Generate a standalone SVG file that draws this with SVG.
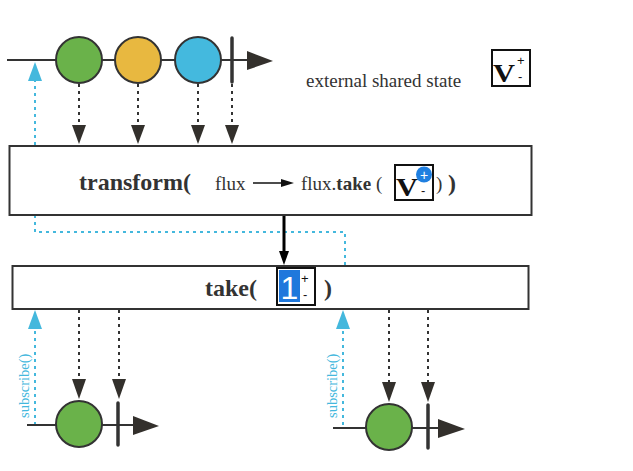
<svg xmlns="http://www.w3.org/2000/svg" width="633" height="471" viewBox="0 0 633 471">
<defs>
<style>
.line{stroke:#333;stroke-width:2;fill:none}
.bar{stroke:#333;stroke-width:3.5;stroke-linecap:round}
.dash{stroke:#333;stroke-width:2;stroke-dasharray:3 4;fill:none}
.cyan{stroke:#44b8dd;stroke-width:2;stroke-dasharray:3 4;fill:none}
.head{fill:#33302c}
.chead{fill:#44b8dd}
.node{stroke:#333;stroke-width:2}
.box{fill:#fff;stroke:#333;stroke-width:2}
.serif{font-family:"Liberation Serif","DejaVu Serif",serif;fill:#333}
.bold{font-weight:bold}
.sub{font-family:"Liberation Serif",serif;font-size:14.5px;fill:#44b8dd}
.sign{font-family:"Liberation Sans",sans-serif;font-size:13px;fill:#111}
.vee{font-family:"Liberation Serif",serif;font-size:25px;font-weight:bold;fill:#111}
</style>
</defs>
<rect width="633" height="471" fill="#fff"/>

<g id="connectors">
  <line class="line" x1="7" y1="60" x2="250" y2="60"/>
  <polygon class="head" points="247,51 273,61 247,70"/>
  <line class="dash" x1="79" y1="84" x2="79" y2="126"/>
  <polygon class="head" points="72,125 86,125 79,144"/>
  <line class="dash" x1="138" y1="84" x2="138" y2="126"/>
  <polygon class="head" points="131,125 145,125 138,144"/>
  <line class="dash" x1="198" y1="84" x2="198" y2="126"/>
  <polygon class="head" points="191,125 205,125 198,144"/>
  <line class="dash" x1="232" y1="84" x2="232" y2="126"/>
  <polygon class="head" points="225,125 239,125 232,144"/>
  <line class="cyan" x1="35" y1="145" x2="35" y2="80"/>
  <polygon class="chead" points="28,81 42,81 35,62"/>
  <polyline class="cyan" points="35,215 35,232 345,232 345,266"/>
  <line x1="284" y1="215" x2="284" y2="254" stroke="#000" stroke-width="3"/>
  <polygon points="279,251 289,251 284,265" fill="#000"/>
  <line class="cyan" x1="35" y1="425" x2="35" y2="328"/>
  <polygon class="chead" points="28,329 42,329 35,310"/>
  <line class="dash" x1="79" y1="310" x2="79" y2="380"/>
  <polygon class="head" points="72,379 86,379 79,399"/>
  <line class="dash" x1="119" y1="310" x2="119" y2="380"/>
  <polygon class="head" points="112,379 126,379 119,399"/>
  <line class="line" x1="27" y1="425" x2="135" y2="425"/>
  <polygon class="head" points="133,416 159,426 133,435"/>
  <line class="cyan" x1="343" y1="425" x2="343" y2="328"/>
  <polygon class="chead" points="336,329 350,329 343,310"/>
  <line class="dash" x1="389" y1="310" x2="389" y2="383"/>
  <polygon class="head" points="382,382 396,382 389,402"/>
  <line class="dash" x1="428" y1="310" x2="428" y2="383"/>
  <polygon class="head" points="421,382 435,382 428,402"/>
  <line class="line" x1="333" y1="428" x2="441" y2="428"/>
  <polygon class="head" points="438,419 465,429 438,438"/>
</g>

<g id="top-green"><circle class="node" cx="79" cy="60" r="23" fill="#6ab24a"/></g>
<g id="top-yellow"><circle class="node" cx="138" cy="60" r="23" fill="#e8b840"/></g>
<g id="top-blue"><circle class="node" cx="198" cy="60" r="23" fill="#44b9de"/></g>
<g id="top-complete"><line class="bar" x1="232" y1="38" x2="232" y2="82"/></g>

<g id="external-state">
  <text class="serif" x="306" y="87" font-size="19">external shared state</text>
  <rect x="492" y="50" width="38" height="36" fill="#fff" stroke="#111" stroke-width="2"/>
  <text class="vee" x="493" y="82" textLength="22" lengthAdjust="spacingAndGlyphs">V</text>
  <text class="sign" x="517" y="65">+</text>
  <text class="sign" x="518" y="81">-</text>
</g>

<g id="transform">
  <rect class="box" x="9.5" y="146" width="522" height="69"/>
  <text class="serif bold" x="79" y="190" font-size="24">transform(</text>
  <text class="serif" x="215" y="190" font-size="19">flux</text>
  <line x1="253" y1="183" x2="284" y2="183" stroke="#111" stroke-width="1.5"/>
  <polygon points="281,179 294,183 281,187" fill="#111"/>
  <text class="serif" x="301" y="190" font-size="19">flux.<tspan font-weight="bold">take</tspan> (</text>
  <rect x="395" y="165" width="38" height="35" fill="#fff" stroke="#111" stroke-width="2"/>
  <text class="vee" x="396" y="196" textLength="22" lengthAdjust="spacingAndGlyphs">V</text>
  <circle cx="424" cy="174.5" r="8" fill="#1f7fe0"/>
  <text x="424" y="179.5" text-anchor="middle" font-family="Liberation Sans,sans-serif" font-size="14" fill="#fff">+</text>
  <text class="sign" x="421" y="195">-</text>
  <text class="serif" x="436" y="190" font-size="19">)</text>
  <text class="serif bold" x="448" y="191" font-size="24">)</text>
</g>

<g id="take">
  <rect class="box" x="12.5" y="266" width="516" height="43"/>
  <text class="serif bold" x="205" y="296" font-size="24">take(</text>
  <rect x="277" y="268" width="38" height="37" fill="#fff" stroke="#111" stroke-width="2"/>
  <rect x="279" y="270" width="21" height="32" fill="#1f78dc"/>
  <text x="289.5" y="299" text-anchor="middle" font-family="Liberation Sans,sans-serif" font-size="32" fill="#fff">1</text>
  <text class="sign" x="301" y="283">+</text>
  <text class="sign" x="303" y="299">-</text>
  <text class="serif bold" x="324" y="296" font-size="24">)</text>
</g>

<g id="bottom-left">
  <text class="sub" transform="translate(29,418) rotate(-90)">subscribe()</text>
  <circle class="node" cx="79" cy="424" r="23" fill="#6ab24a"/>
  <line class="bar" x1="118" y1="403" x2="118" y2="445"/>
</g>

<g id="bottom-right">
  <text class="sub" transform="translate(337,418) rotate(-90)">subscribe()</text>
  <circle class="node" cx="389" cy="427" r="23" fill="#6ab24a"/>
  <line class="bar" x1="428" y1="405" x2="428" y2="448"/>
</g>
</svg>
